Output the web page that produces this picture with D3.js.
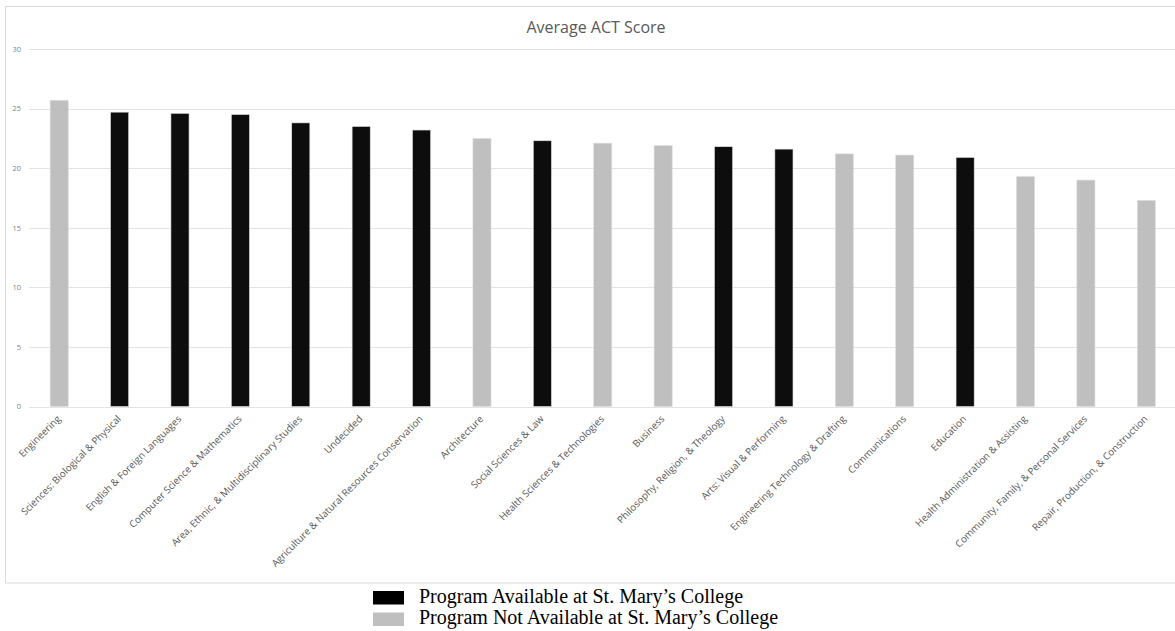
<!DOCTYPE html>
<html>
<head>
<meta charset="utf-8">
<script src="https://cdn.jsdelivr.net/npm/d3@7"></script>
<style>
  body { margin: 0; background: #fff; }
  svg { display: block; }
</style>
</head>
<body>
<svg id="chart" width="1175" height="631"></svg>
<script>
// programmes, sorted by score
const categories = [
  "Engineering",
  "Sciences: Biological & Physical",
  "English & Foreign Languages",
  "Computer Science & Mathematics",
  "Area, Ethnic, & Multidisciplinary Studies",
  "Undecided",
  "Agriculture & Natural Resources Conservation",
  "Architecture",
  "Social Sciences & Law",
  "Health Sciences & Technologies",
  "Business",
  "Philosophy, Religion, & Theology",
  "Arts: Visual & Performing",
  "Engineering Technology & Drafting",
  "Communications",
  "Education",
  "Health Administration & Assisting",
  "Community, Family, & Personal Services",
  "Repair, Production, & Construction"
];
const scores = [25.7, 24.7, 24.6, 24.5, 23.8, 23.5, 23.2, 22.5, 22.3, 22.1, 21.9, 21.8, 21.6, 21.2, 21.1, 20.9, 19.3, 19.0, 17.3];
// true = offered at St. Mary's
const available = [false, true, true, true, true, true, true, false, true, false, false, true, true, false, false, true, false, false, false];
const yTicks = [0, 5, 10, 15, 20, 25, 30];
const legendLabels = ["Program Available at St. Mary\u2019s College", "Program Not Available at St. Mary\u2019s College"];

const svg = d3.select("#chart");
const margin = {top: 49, left: 29, bottom: 224.5};
const plotRight = 1176.5;
const height = 631 - margin.top - margin.bottom;

const colorOf = a => a ? "#0d0d0d" : "#bfbfbf";

// chart frame (runs off the right edge like the original)
svg.append("rect")
    .attr("x", 5.5).attr("y", 6.5)
    .attr("width", 1200).attr("height", 576.5)
    .attr("fill", "#fff")
    .attr("stroke", "#d9d9d9");

svg.append("text")
    .attr("x", 596).attr("y", 33)
    .attr("text-anchor", "middle")
    .style("font-family", "'Open Sans', sans-serif")
    .style("font-size", "16px")
    .attr("fill", "#595959")
    .text("Average ACT Score");

const x = d3.scaleBand()
    .domain(categories)
    .range([margin.left, plotRight])
    .paddingInner(0.7)
    .paddingOuter(0.35);

const y = d3.scaleLinear()
    .domain([0, 30])
    .range([margin.top + height, margin.top]);

// gridlines
svg.append("g")
    .selectAll("line")
    .data(yTicks)
    .join("line")
    .attr("x1", margin.left).attr("x2", 1175)
    .attr("y1", d => Math.round(y(d)) + 0.5)
    .attr("y2", d => Math.round(y(d)) + 0.5)
    .attr("stroke", "#e3e3e3")
    .attr("stroke-width", 1);

// y axis labels
const yAxis = svg.append("g")
    .attr("transform", `translate(${margin.left - 8},0)`)
    .call(d3.axisLeft(y).tickValues(yTicks).tickSize(0).tickPadding(0));
yAxis.select(".domain").remove();
yAxis.selectAll("text")
    .style("font-family", "'Open Sans', sans-serif")
    .style("font-size", "7.5px")
    .attr("fill", "#7f7f7f");

// bars
svg.append("g")
    .selectAll("rect")
    .data(categories)
    .join("rect")
    .attr("x", d => x(d))
    .attr("width", x.bandwidth())
    .attr("y", (d, i) => y(scores[i]))
    .attr("height", (d, i) => y(0) - y(scores[i]))
    .attr("fill", (d, i) => colorOf(available[i]))
    .attr("stroke", "#e0e0e0")
    .attr("stroke-width", 0.6);

// rotated category labels
svg.append("g")
    .selectAll("text")
    .data(categories)
    .join("text")
    .attr("transform", d => `translate(${x(d) + x.bandwidth() / 2 + 2},${y(0) + 13}) rotate(-45)`)
    .attr("text-anchor", "end")
    .style("font-family", "'Open Sans', sans-serif")
    .style("font-size", "9.8px")
    .attr("fill", "#595959")
    .text(d => d);

// legend under the chart
const legend = svg.append("g")
    .selectAll("g")
    .data(legendLabels)
    .join("g")
    .attr("transform", (d, i) => `translate(373,${591 + i * 21.5})`);

legend.append("rect")
    .attr("width", 31).attr("height", 13.5)
    .attr("fill", (d, i) => i === 0 ? "#000" : "#bfbfbf");

legend.append("text")
    .attr("x", 46).attr("y", 11.5)
    .style("font-family", "'Liberation Serif', 'Times New Roman', serif")
    .style("font-size", "20px")
    .attr("fill", "#000")
    .text(d => d);
</script>
</body>
</html>
